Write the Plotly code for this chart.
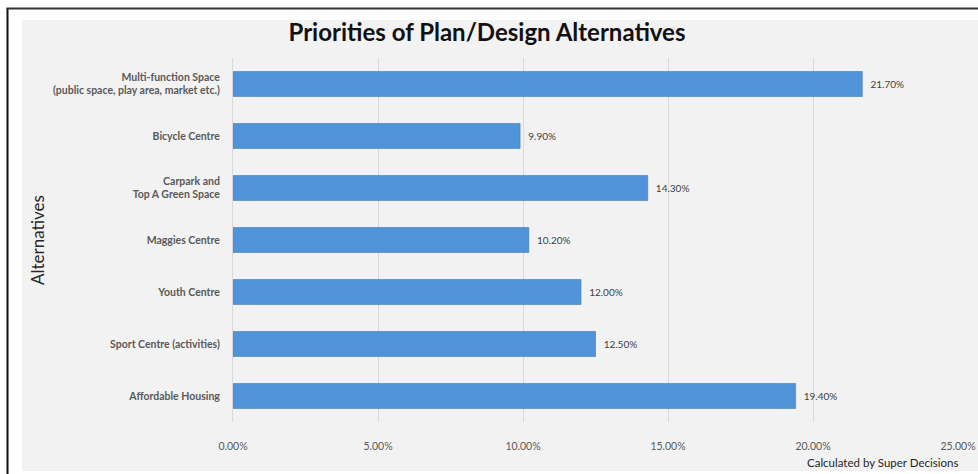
import plotly.graph_objects as go

categories = [
    "Multi-function Space<br>(public space, play area, market etc.)",
    "Bicycle Centre",
    "Carpark and<br>Top A Green Space",
    "Maggies Centre",
    "Youth Centre",
    "Sport Centre (activities)",
    "Affordable Housing",
]
values = [21.7, 9.9, 14.3, 10.2, 12.0, 12.5, 19.4]
x_ticks = [0, 5, 10, 15, 20, 25]
x_tick_labels = ["0.00%", "5.00%", "10.00%", "15.00%", "20.00%", "25.00%"]

W, H = 978, 474
ML, MR, MT, MB = 233, 20, 58, 52
PW, PH = W - ML - MR, H - MT - MB


def px(x):
    return (x - ML) / PW


def py(y):
    return (H - MB - y) / PH


fig = go.Figure()
fig.add_trace(go.Bar(
    x=values,
    y=categories,
    orientation="h",
    marker=dict(color="#5093d8", line=dict(color="#3f78b8", width=0.6)),
    texttemplate="  %{x:.2f}%",
    textposition="outside",
    textfont=dict(family="Lato, sans-serif", size=10, color="#404040"),
    cliponaxis=False,
    width=0.48,
))

fig.update_layout(
    width=W, height=H, autosize=False,
    margin=dict(l=ML, r=MR, t=MT, b=MB, autoexpand=False),
    paper_bgcolor="white",
    plot_bgcolor="#f2f2f2",
    showlegend=False,
    title=dict(
        text="<b>Priorities of Plan/Design Alternatives</b>",
        x=487 / W, xref="container", xanchor="center",
        y=1 - 33 / H, yref="container", yanchor="middle",
        font=dict(family="Lato, sans-serif", size=24, color="#111111"),
    ),
    xaxis=dict(
        range=[0, 25],
        tickvals=x_ticks,
        ticktext=x_tick_labels,
        showgrid=True, gridcolor="#d9d9d9", gridwidth=1,
        zeroline=False, showline=False, automargin=False,
        tickfont=dict(family="Lato, sans-serif", size=10.5, color="#595959"),
        ticks="", ticklabelstandoff=16,
    ),
    yaxis=dict(
        autorange="reversed",
        showgrid=False, zeroline=False, automargin=False,
        showline=True, linecolor="#d9d9d9", linewidth=1,
        tickfont=dict(family="Lato, sans-serif", size=10.5, color="#595959", weight="bold"),
        ticks="", ticklabelstandoff=10,
    ),
    bargap=0.52,
)

# gray chart background area
fig.add_shape(type="rect", xref="paper", yref="paper",
              x0=px(22), x1=px(W), y0=py(471), y1=py(20),
              fillcolor="#f2f2f2", line=dict(width=0), layer="below")
# outer frame lines
fig.add_shape(type="line", xref="paper", yref="paper",
              x0=px(7.5), x1=px(7.5), y0=py(8), y1=py(H),
              line=dict(color="#111111", width=2))
fig.add_shape(type="line", xref="paper", yref="paper",
              x0=px(6.5), x1=px(W), y0=py(8.5), y1=py(8.5),
              line=dict(color="#333333", width=2))

fig.add_annotation(
    text="Calculated by Super Decisions",
    xref="paper", yref="paper",
    x=px(960), y=py(462), xanchor="right", yanchor="middle",
    showarrow=False,
    font=dict(family="Lato, sans-serif", size=11.5, color="#262626"),
)

fig.add_annotation(
    text="Alternatives", textangle=-90,
    xref="paper", yref="paper",
    x=px(37), y=py(240), xanchor="center", yanchor="middle",
    showarrow=False,
    font=dict(family="Lato, sans-serif", size=17, color="#262626"),
)

fig.write_html("out.html", config={"responsive": False})
